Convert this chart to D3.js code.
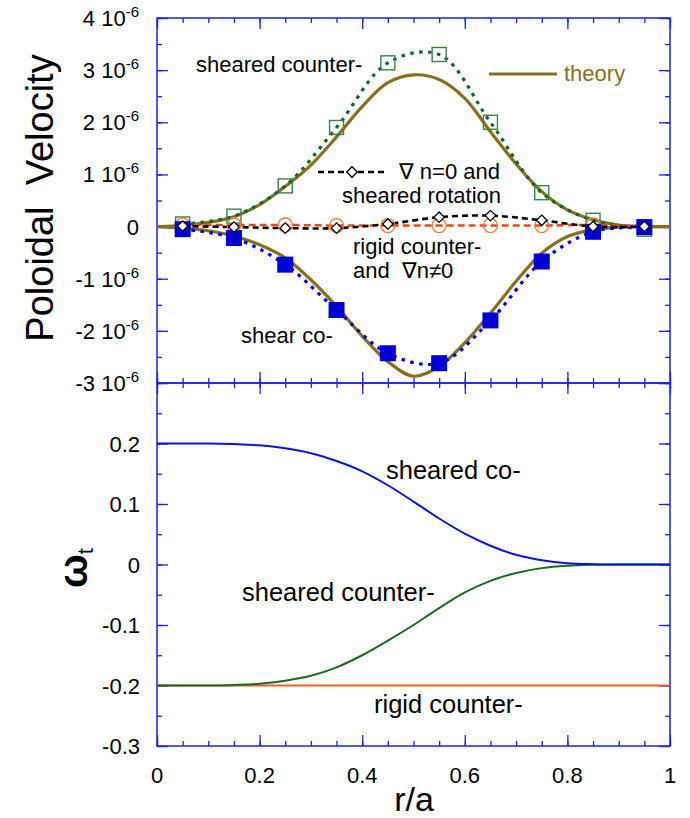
<!DOCTYPE html>
<html>
<head>
<meta charset="utf-8">
<script src="https://d3js.org/d3.v7.min.js"></script>
<style>
  body { margin: 0; background: #fff; }
  text { font-family: "Liberation Sans", Arial, Helvetica, "DejaVu Sans", sans-serif; fill: #000; }
</style>
</head>
<body>
<script>
var width = 690, height = 818;
var plot = {left: 157, right: 670, top: 18, mid: 383, bottom: 746};

// simulation points (r/a), poloidal velocity in units of 1e-6
var rMarks = [0.05, 0.15, 0.25, 0.35, 0.45, 0.55, 0.65, 0.75, 0.85, 0.95];
var shearedCounterV = [0.05, 0.2, 0.78, 1.9, 3.14, 3.3, 2.0, 0.65, 0.12, -0.05];
var shearCoV = [-0.05, -0.22, -0.73, -1.6, -2.43, -2.62, -1.8, -0.67, -0.1, -0.01];
var gradN0V = [0.01, -0.01, -0.03, -0.03, 0.05, 0.18, 0.21, 0.12, 0.0, 0.0];
var rigidCounterV = [0.03, 0.03, 0.03, 0.02, 0.02, 0.02, 0.02, 0.02, 0.03, 0.0];

// theory curves
var rTheory = [0, 0.05, 0.1, 0.15, 0.2, 0.25, 0.3, 0.35, 0.4, 0.45, 0.5, 0.55, 0.6, 0.65, 0.7, 0.75, 0.8, 0.85, 0.9, 0.95, 1];
var theoryUpper = [0, 0.02, 0.08, 0.19, 0.42, 0.77, 1.18, 1.72, 2.3, 2.76, 2.91, 2.82, 2.46, 1.82, 1.2, 0.67, 0.32, 0.13, 0.03, 0.005, 0];
var theoryLower = [0, -0.03, -0.08, -0.18, -0.35, -0.6, -1.02, -1.53, -2.1, -2.59, -2.87, -2.68, -2.23, -1.66, -1.05, -0.51, -0.19, -0.06, -0.01, 0, 0];

// toroidal rotation profiles
var rOmega = [0, 0.05, 0.1, 0.15, 0.2, 0.25, 0.3, 0.35, 0.4, 0.45, 0.5, 0.55, 0.6, 0.65, 0.7, 0.75, 0.8, 0.85, 0.9, 0.95, 1];
var omegaShearedCo = [0.2, 0.2, 0.2, 0.199, 0.197, 0.192, 0.184, 0.171, 0.154, 0.131, 0.104, 0.076, 0.051, 0.031, 0.016, 0.007, 0.002, 0.0005, 0, 0, 0];
var omegaShearedCounter = [-0.2, -0.2, -0.2, -0.199, -0.197, -0.192, -0.184, -0.17, -0.15, -0.126, -0.1, -0.072, -0.046, -0.027, -0.014, -0.006, -0.002, -0.0005, 0, 0, 0];
var rRigid = [0, 1];
var omegaRigid = [-0.2, -0.2];

var xTicks = [0, 0.2, 0.4, 0.6, 0.8, 1];
var xTickLabels = ["0", "0.2", "0.4", "0.6", "0.8", "1"];
var vTicks = [-3, -2, -1, 0, 1, 2, 3, 4];
var vTickLabels = ["-3 10", "-2 10", "-1 10", "0", "1 10", "2 10", "3 10", "4 10"];
var wTicks = [-0.3, -0.2, -0.1, 0, 0.1, 0.2];
var wTickLabels = ["-0.3", "-0.2", "-0.1", "0", "0.1", "0.2"];

var frameColor = "#1f1fe8";
var olive = "#86701f";

var svg = d3.select("body").append("svg")
  .attr("width", width).attr("height", height);

var x = d3.scaleLinear().domain([0, 1]).range([plot.left, plot.right]);
var yV = d3.scaleLinear().domain([-3, 4]).range([plot.mid, plot.top]);
var yW = d3.scaleLinear().domain([-0.3, 0.3]).range([plot.bottom, plot.mid]);

// inward ticks, major + minor, on all four sides
function drawTicks(axisFn, scale, values, size, tx, ty) {
  svg.append("g")
    .attr("transform", `translate(${tx},${ty})`)
    .call(axisFn(scale).tickValues(values).tickSize(size).tickSizeOuter(0).tickFormat(""))
    .call(g => g.select(".domain").remove())
    .selectAll("line").attr("stroke", frameColor).attr("stroke-width", 1.3);
}
var xMinor = x.ticks(20);
var vMinor = yV.ticks(14);
var wMinor = yW.ticks(12);
[[plot.top, d3.axisTop], [plot.mid, d3.axisBottom], [plot.mid, d3.axisTop], [plot.bottom, d3.axisBottom]].forEach(function(p) {
  drawTicks(p[1], x, xMinor, -5, 0, p[0]);
  drawTicks(p[1], x, xTicks, -11, 0, p[0]);
});
drawTicks(d3.axisLeft, yV, vMinor, -5, plot.left, 0);
drawTicks(d3.axisLeft, yV, vTicks, -11, plot.left, 0);
drawTicks(d3.axisRight, yV, vMinor, -5, plot.right, 0);
drawTicks(d3.axisRight, yV, vTicks, -11, plot.right, 0);
drawTicks(d3.axisLeft, yW, wMinor, -5, plot.left, 0);
drawTicks(d3.axisLeft, yW, wTicks.concat([0.3]), -11, plot.left, 0);
drawTicks(d3.axisRight, yW, wMinor, -5, plot.right, 0);
drawTicks(d3.axisRight, yW, wTicks.concat([0.3]), -11, plot.right, 0);

svg.append("rect").attr("x", plot.left).attr("y", plot.top)
  .attr("width", plot.right - plot.left).attr("height", plot.mid - plot.top)
  .attr("fill", "none").attr("stroke", frameColor).attr("stroke-width", 1.5);
svg.append("rect").attr("x", plot.left).attr("y", plot.mid)
  .attr("width", plot.right - plot.left).attr("height", plot.bottom - plot.mid)
  .attr("fill", "none").attr("stroke", frameColor).attr("stroke-width", 1.5);

// tick labels
var vLab = svg.selectAll(".vlab").data(vTicks).enter().append("text")
  .attr("class", "vlab")
  .attr("x", 139)
  .attr("y", d => yV(d) + 8)
  .attr("text-anchor", "end")
  .style("font-size", "22px");
vLab.each(function(d, i) {
  var t = d3.select(this);
  if (d === 0) { t.text(vTickLabels[i]); return; }
  t.append("tspan").text(vTickLabels[i]);
  t.append("tspan").attr("dy", -9).style("font-size", "15px").text("-6");
});

svg.selectAll(".wlab").data(wTicks).enter().append("text")
  .attr("class", "wlab")
  .attr("x", 140)
  .attr("y", d => yW(d) + 8)
  .attr("text-anchor", "end")
  .style("font-size", "22px")
  .text((d, i) => wTickLabels[i]);

svg.selectAll(".xlab").data(xTicks).enter().append("text")
  .attr("class", "xlab")
  .attr("x", d => x(d))
  .attr("y", 783)
  .attr("text-anchor", "middle")
  .style("font-size", "22px")
  .text((d, i) => xTickLabels[i]);

// axis titles
svg.append("text")
  .attr("transform", "translate(53,198) rotate(-90)")
  .attr("text-anchor", "middle")
  .style("font-size", "38px")
  .text("Poloidal\u00a0\u00a0Velocity");

var om = svg.append("text")
  .attr("transform", "translate(87,568) rotate(-90)")
  .attr("text-anchor", "middle")
  .style("font-size", "40px")
  .style("font-weight", "bold");
om.append("tspan").text("\u03c9");
om.append("tspan").attr("dy", 6).style("font-size", "22px").style("font-weight", "normal").text("t");

svg.append("text")
  .attr("x", 414).attr("y", 811)
  .attr("text-anchor", "middle")
  .style("font-size", "34px")
  .text("r/a");

// top panel: lines
var lineV = d3.line().x(d => x(d[0])).y(d => yV(d[1])).curve(d3.curveCatmullRom);
var lineW = d3.line().x(d => x(d[0])).y(d => yW(d[1])).curve(d3.curveCatmullRom);

function pts(rs, vs) { return rs.map((r, i) => [r, vs[i]]); }

svg.append("path").datum(pts(rTheory, theoryUpper)).attr("d", lineV)
  .attr("fill", "none").attr("stroke", olive).attr("stroke-width", 3.2);
svg.append("path").datum(pts(rTheory, theoryLower)).attr("d", lineV)
  .attr("fill", "none").attr("stroke", olive).attr("stroke-width", 3.2);

svg.append("path").datum(pts(rMarks, shearedCounterV)).attr("d", lineV)
  .attr("fill", "none").attr("stroke", "#0b6a28").attr("stroke-width", 3.2)
  .attr("stroke-dasharray", "3.5 5.5");
svg.append("path").datum(pts(rMarks, shearCoV)).attr("d", lineV)
  .attr("fill", "none").attr("stroke", "#0000dd").attr("stroke-width", 3.2)
  .attr("stroke-dasharray", "3.5 5.5");
svg.append("path").datum(pts(rMarks, rigidCounterV)).attr("d", lineV)
  .attr("fill", "none").attr("stroke", "#e84a1a").attr("stroke-width", 2.6)
  .attr("stroke-dasharray", "7 4");
svg.append("path").datum(pts(rMarks, gradN0V)).attr("d", lineV)
  .attr("fill", "none").attr("stroke", "#000").attr("stroke-width", 2.6)
  .attr("stroke-dasharray", "6 4");

// markers
svg.selectAll(".gsq").data(pts(rMarks, shearedCounterV)).enter().append("rect")
  .attr("x", d => x(d[0]) - 7).attr("y", d => yV(d[1]) - 7)
  .attr("width", 14).attr("height", 14)
  .attr("fill", "none").attr("stroke", "#3f7f47").attr("stroke-width", 1.4);
svg.selectAll(".ocirc").data(pts(rMarks, rigidCounterV)).enter().append("circle")
  .attr("cx", d => x(d[0])).attr("cy", d => yV(d[1])).attr("r", 7)
  .attr("fill", "none").attr("stroke", "#f27a3e").attr("stroke-width", 1.3);
svg.selectAll(".bsq").data(pts(rMarks, shearCoV)).enter().append("rect")
  .attr("x", d => x(d[0]) - 8).attr("y", d => yV(d[1]) - 8)
  .attr("width", 16).attr("height", 16)
  .attr("fill", "#0000d6");
var diamond = d3.symbol().type(d3.symbolDiamond2).size(70);
svg.selectAll(".dia").data(pts(rMarks, gradN0V)).enter().append("path")
  .attr("transform", d => `translate(${x(d[0])},${yV(d[1])})`)
  .attr("d", diamond)
  .attr("fill", "#fff").attr("stroke", "#000").attr("stroke-width", 1.3);

// legend / annotations in the top panel
svg.append("line").attr("x1", 489).attr("x2", 557).attr("y1", 74).attr("y2", 74)
  .attr("stroke", olive).attr("stroke-width", 3.2);
svg.append("text").attr("x", 564).attr("y", 81).style("font-size", "22px")
  .style("fill", olive).text("theory");

svg.append("line").attr("x1", 318).attr("x2", 384).attr("y1", 172).attr("y2", 172)
  .attr("stroke", "#000").attr("stroke-width", 2.6).attr("stroke-dasharray", "6 4");
svg.append("path").attr("transform", "translate(352,172)").attr("d", diamond)
  .attr("fill", "#fff").attr("stroke", "#000").attr("stroke-width", 1.3);

var notes = [
  {t: "sheared counter-", x: 196, y: 72},
  {t: "\u2207 n=0 and", x: 399, y: 179},
  {t: "sheared rotation", x: 342, y: 203},
  {t: "rigid counter-", x: 353, y: 254},
  {t: "and  \u2207n\u22600", x: 353, y: 278},
  {t: "shear co-", x: 241, y: 343}
];
svg.selectAll(".note").data(notes).enter().append("text")
  .attr("x", d => d.x).attr("y", d => d.y)
  .style("font-size", "22px").style("white-space", "pre")
  .text(d => d.t);

// bottom panel
svg.append("path").datum(pts(rRigid, omegaRigid)).attr("d", lineW)
  .attr("fill", "none").attr("stroke", "#e8661a").attr("stroke-width", 2);
svg.append("path").datum(pts(rOmega, omegaShearedCounter)).attr("d", lineW)
  .attr("fill", "none").attr("stroke", "#1b6a24").attr("stroke-width", 2);
svg.append("path").datum(pts(rOmega, omegaShearedCo)).attr("d", lineW)
  .attr("fill", "none").attr("stroke", "#0a14d8").attr("stroke-width", 2);

var notesW = [
  {t: "sheared co-", x: 386, y: 479},
  {t: "sheared counter-", x: 242, y: 601},
  {t: "rigid counter-", x: 374, y: 713}
];
svg.selectAll(".notew").data(notesW).enter().append("text")
  .attr("x", d => d.x).attr("y", d => d.y)
  .style("font-size", "25.5px")
  .text(d => d.t);
</script>
</body>
</html>
